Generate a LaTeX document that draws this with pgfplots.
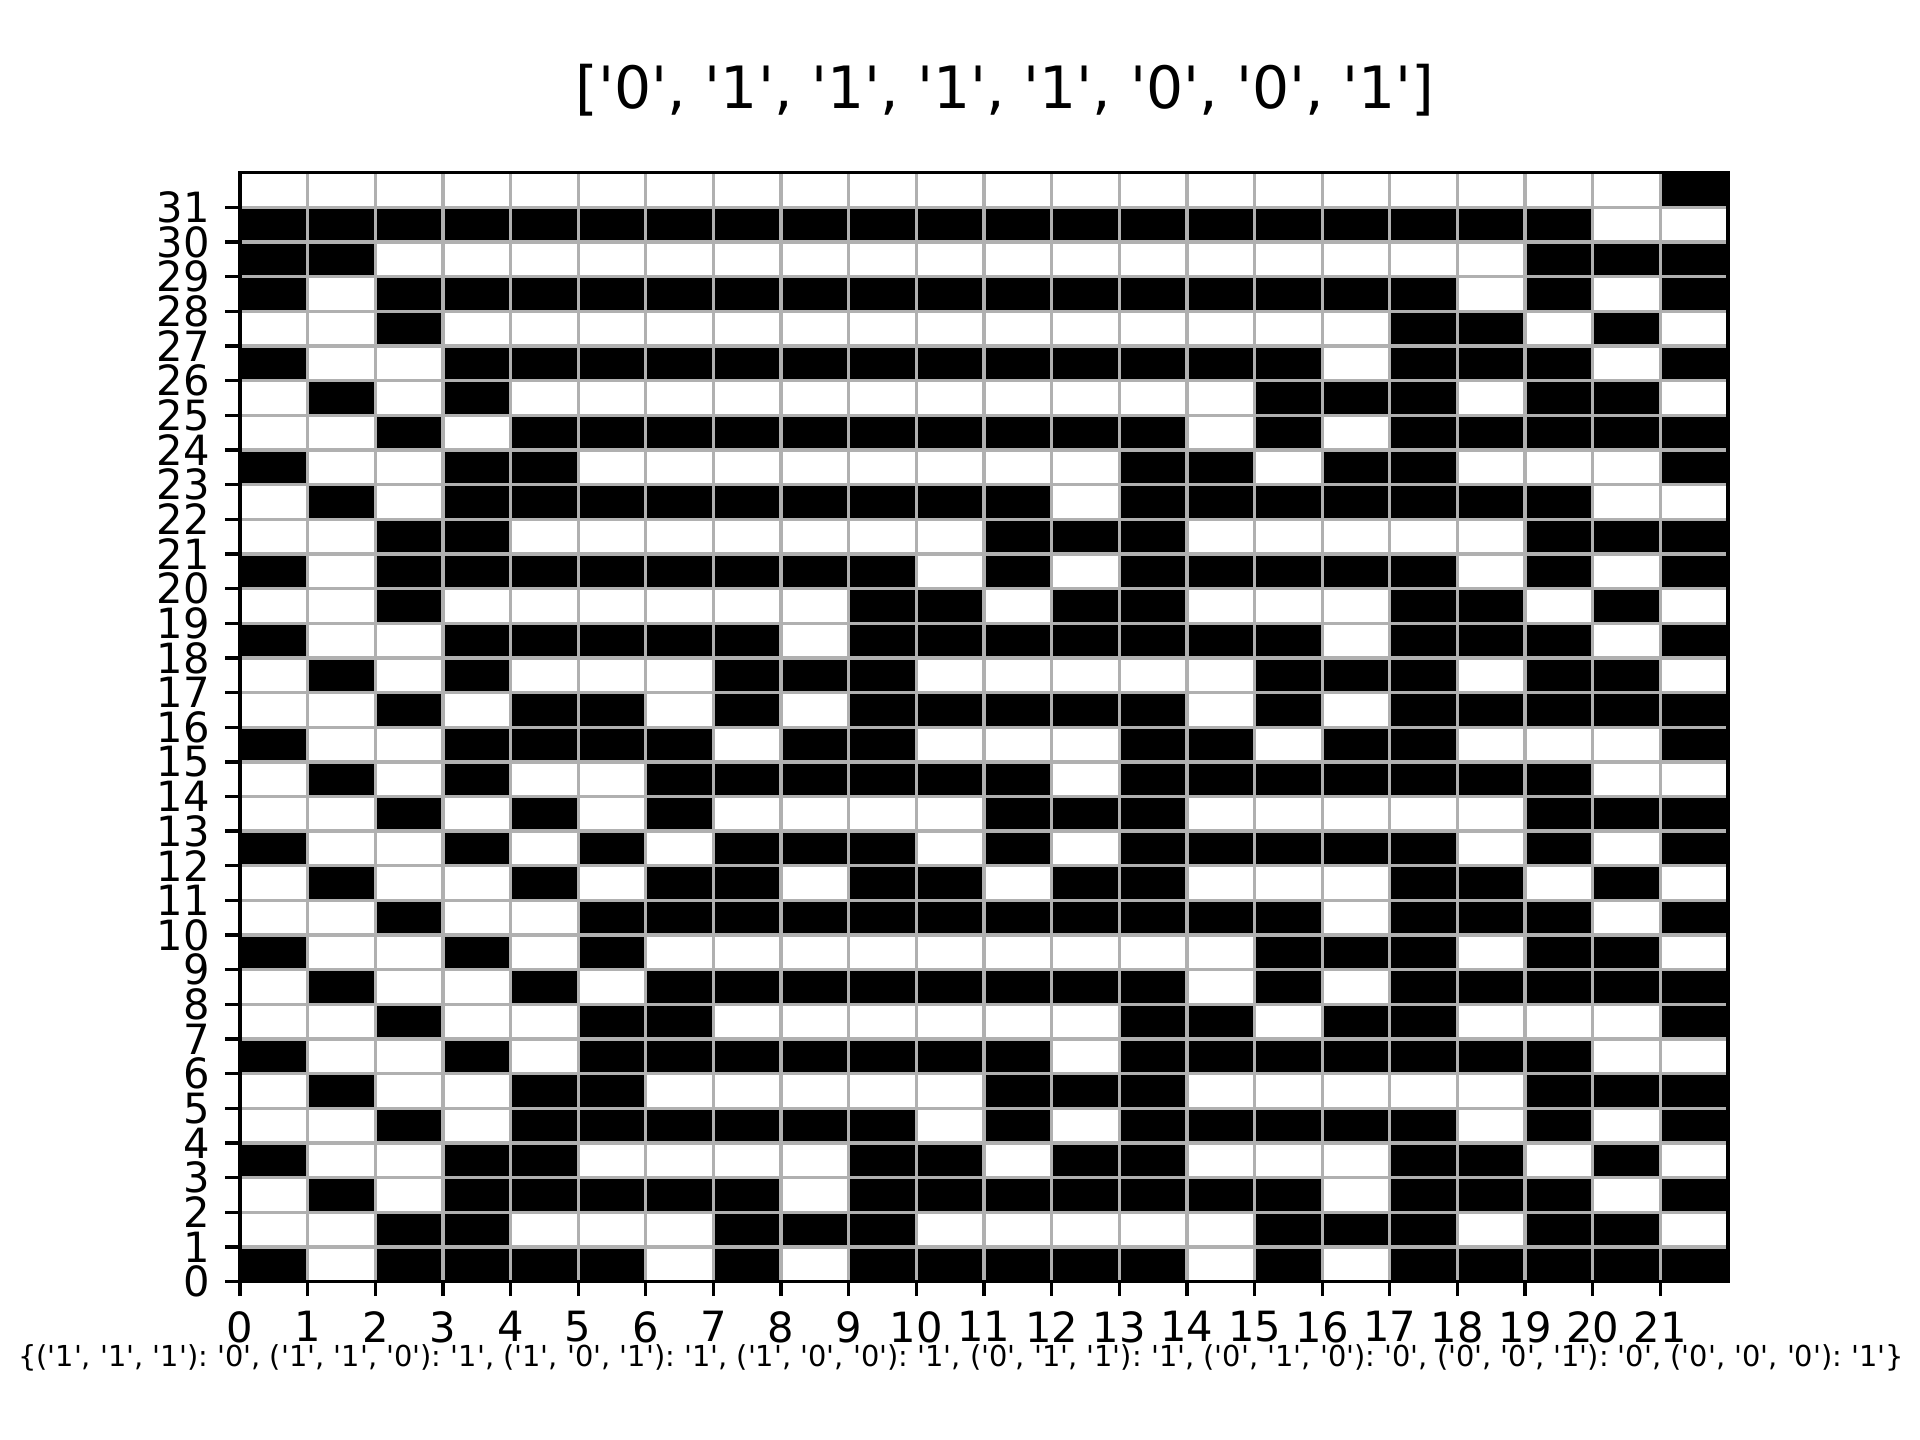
\documentclass[border=0pt]{standalone}
\usepackage{fontspec}
\setmainfont{DejaVu Sans}[Ligatures=TeXOff]
\usepackage{graphicx}
\usepackage{pgfplots}
\usepackage{pgfplotstable}
\pgfplotsset{compat=1.18}
\definecolor{gridgray}{HTML}{B0B0B0}
\pgfplotstableread[row sep=\\]{
x y c\\
0.5 0.5 1\\1.5 0.5 0\\2.5 0.5 1\\3.5 0.5 1\\4.5 0.5 1\\5.5 0.5 1\\6.5 0.5 0\\7.5 0.5 1\\8.5 0.5 0\\9.5 0.5 1\\10.5 0.5 1\\11.5 0.5 1\\12.5 0.5 1\\13.5 0.5 1\\14.5 0.5 0\\15.5 0.5 1\\16.5 0.5 0\\17.5 0.5 1\\18.5 0.5 1\\19.5 0.5 1\\20.5 0.5 1\\21.5 0.5 1\\
0.5 1.5 0\\1.5 1.5 0\\2.5 1.5 1\\3.5 1.5 1\\4.5 1.5 0\\5.5 1.5 0\\6.5 1.5 0\\7.5 1.5 1\\8.5 1.5 1\\9.5 1.5 1\\10.5 1.5 0\\11.5 1.5 0\\12.5 1.5 0\\13.5 1.5 0\\14.5 1.5 0\\15.5 1.5 1\\16.5 1.5 1\\17.5 1.5 1\\18.5 1.5 0\\19.5 1.5 1\\20.5 1.5 1\\21.5 1.5 0\\
0.5 2.5 0\\1.5 2.5 1\\2.5 2.5 0\\3.5 2.5 1\\4.5 2.5 1\\5.5 2.5 1\\6.5 2.5 1\\7.5 2.5 1\\8.5 2.5 0\\9.5 2.5 1\\10.5 2.5 1\\11.5 2.5 1\\12.5 2.5 1\\13.5 2.5 1\\14.5 2.5 1\\15.5 2.5 1\\16.5 2.5 0\\17.5 2.5 1\\18.5 2.5 1\\19.5 2.5 1\\20.5 2.5 0\\21.5 2.5 1\\
0.5 3.5 1\\1.5 3.5 0\\2.5 3.5 0\\3.5 3.5 1\\4.5 3.5 1\\5.5 3.5 0\\6.5 3.5 0\\7.5 3.5 0\\8.5 3.5 0\\9.5 3.5 1\\10.5 3.5 1\\11.5 3.5 0\\12.5 3.5 1\\13.5 3.5 1\\14.5 3.5 0\\15.5 3.5 0\\16.5 3.5 0\\17.5 3.5 1\\18.5 3.5 1\\19.5 3.5 0\\20.5 3.5 1\\21.5 3.5 0\\
0.5 4.5 0\\1.5 4.5 0\\2.5 4.5 1\\3.5 4.5 0\\4.5 4.5 1\\5.5 4.5 1\\6.5 4.5 1\\7.5 4.5 1\\8.5 4.5 1\\9.5 4.5 1\\10.5 4.5 0\\11.5 4.5 1\\12.5 4.5 0\\13.5 4.5 1\\14.5 4.5 1\\15.5 4.5 1\\16.5 4.5 1\\17.5 4.5 1\\18.5 4.5 0\\19.5 4.5 1\\20.5 4.5 0\\21.5 4.5 1\\
0.5 5.5 0\\1.5 5.5 1\\2.5 5.5 0\\3.5 5.5 0\\4.5 5.5 1\\5.5 5.5 1\\6.5 5.5 0\\7.5 5.5 0\\8.5 5.5 0\\9.5 5.5 0\\10.5 5.5 0\\11.5 5.5 1\\12.5 5.5 1\\13.5 5.5 1\\14.5 5.5 0\\15.5 5.5 0\\16.5 5.5 0\\17.5 5.5 0\\18.5 5.5 0\\19.5 5.5 1\\20.5 5.5 1\\21.5 5.5 1\\
0.5 6.5 1\\1.5 6.5 0\\2.5 6.5 0\\3.5 6.5 1\\4.5 6.5 0\\5.5 6.5 1\\6.5 6.5 1\\7.5 6.5 1\\8.5 6.5 1\\9.5 6.5 1\\10.5 6.5 1\\11.5 6.5 1\\12.5 6.5 0\\13.5 6.5 1\\14.5 6.5 1\\15.5 6.5 1\\16.5 6.5 1\\17.5 6.5 1\\18.5 6.5 1\\19.5 6.5 1\\20.5 6.5 0\\21.5 6.5 0\\
0.5 7.5 0\\1.5 7.5 0\\2.5 7.5 1\\3.5 7.5 0\\4.5 7.5 0\\5.5 7.5 1\\6.5 7.5 1\\7.5 7.5 0\\8.5 7.5 0\\9.5 7.5 0\\10.5 7.5 0\\11.5 7.5 0\\12.5 7.5 0\\13.5 7.5 1\\14.5 7.5 1\\15.5 7.5 0\\16.5 7.5 1\\17.5 7.5 1\\18.5 7.5 0\\19.5 7.5 0\\20.5 7.5 0\\21.5 7.5 1\\
0.5 8.5 0\\1.5 8.5 1\\2.5 8.5 0\\3.5 8.5 0\\4.5 8.5 1\\5.5 8.5 0\\6.5 8.5 1\\7.5 8.5 1\\8.5 8.5 1\\9.5 8.5 1\\10.5 8.5 1\\11.5 8.5 1\\12.5 8.5 1\\13.5 8.5 1\\14.5 8.5 0\\15.5 8.5 1\\16.5 8.5 0\\17.5 8.5 1\\18.5 8.5 1\\19.5 8.5 1\\20.5 8.5 1\\21.5 8.5 1\\
0.5 9.5 1\\1.5 9.5 0\\2.5 9.5 0\\3.5 9.5 1\\4.5 9.5 0\\5.5 9.5 1\\6.5 9.5 0\\7.5 9.5 0\\8.5 9.5 0\\9.5 9.5 0\\10.5 9.5 0\\11.5 9.5 0\\12.5 9.5 0\\13.5 9.5 0\\14.5 9.5 0\\15.5 9.5 1\\16.5 9.5 1\\17.5 9.5 1\\18.5 9.5 0\\19.5 9.5 1\\20.5 9.5 1\\21.5 9.5 0\\
0.5 10.5 0\\1.5 10.5 0\\2.5 10.5 1\\3.5 10.5 0\\4.5 10.5 0\\5.5 10.5 1\\6.5 10.5 1\\7.5 10.5 1\\8.5 10.5 1\\9.5 10.5 1\\10.5 10.5 1\\11.5 10.5 1\\12.5 10.5 1\\13.5 10.5 1\\14.5 10.5 1\\15.5 10.5 1\\16.5 10.5 0\\17.5 10.5 1\\18.5 10.5 1\\19.5 10.5 1\\20.5 10.5 0\\21.5 10.5 1\\
0.5 11.5 0\\1.5 11.5 1\\2.5 11.5 0\\3.5 11.5 0\\4.5 11.5 1\\5.5 11.5 0\\6.5 11.5 1\\7.5 11.5 1\\8.5 11.5 0\\9.5 11.5 1\\10.5 11.5 1\\11.5 11.5 0\\12.5 11.5 1\\13.5 11.5 1\\14.5 11.5 0\\15.5 11.5 0\\16.5 11.5 0\\17.5 11.5 1\\18.5 11.5 1\\19.5 11.5 0\\20.5 11.5 1\\21.5 11.5 0\\
0.5 12.5 1\\1.5 12.5 0\\2.5 12.5 0\\3.5 12.5 1\\4.5 12.5 0\\5.5 12.5 1\\6.5 12.5 0\\7.5 12.5 1\\8.5 12.5 1\\9.5 12.5 1\\10.5 12.5 0\\11.5 12.5 1\\12.5 12.5 0\\13.5 12.5 1\\14.5 12.5 1\\15.5 12.5 1\\16.5 12.5 1\\17.5 12.5 1\\18.5 12.5 0\\19.5 12.5 1\\20.5 12.5 0\\21.5 12.5 1\\
0.5 13.5 0\\1.5 13.5 0\\2.5 13.5 1\\3.5 13.5 0\\4.5 13.5 1\\5.5 13.5 0\\6.5 13.5 1\\7.5 13.5 0\\8.5 13.5 0\\9.5 13.5 0\\10.5 13.5 0\\11.5 13.5 1\\12.5 13.5 1\\13.5 13.5 1\\14.5 13.5 0\\15.5 13.5 0\\16.5 13.5 0\\17.5 13.5 0\\18.5 13.5 0\\19.5 13.5 1\\20.5 13.5 1\\21.5 13.5 1\\
0.5 14.5 0\\1.5 14.5 1\\2.5 14.5 0\\3.5 14.5 1\\4.5 14.5 0\\5.5 14.5 0\\6.5 14.5 1\\7.5 14.5 1\\8.5 14.5 1\\9.5 14.5 1\\10.5 14.5 1\\11.5 14.5 1\\12.5 14.5 0\\13.5 14.5 1\\14.5 14.5 1\\15.5 14.5 1\\16.5 14.5 1\\17.5 14.5 1\\18.5 14.5 1\\19.5 14.5 1\\20.5 14.5 0\\21.5 14.5 0\\
0.5 15.5 1\\1.5 15.5 0\\2.5 15.5 0\\3.5 15.5 1\\4.5 15.5 1\\5.5 15.5 1\\6.5 15.5 1\\7.5 15.5 0\\8.5 15.5 1\\9.5 15.5 1\\10.5 15.5 0\\11.5 15.5 0\\12.5 15.5 0\\13.5 15.5 1\\14.5 15.5 1\\15.5 15.5 0\\16.5 15.5 1\\17.5 15.5 1\\18.5 15.5 0\\19.5 15.5 0\\20.5 15.5 0\\21.5 15.5 1\\
0.5 16.5 0\\1.5 16.5 0\\2.5 16.5 1\\3.5 16.5 0\\4.5 16.5 1\\5.5 16.5 1\\6.5 16.5 0\\7.5 16.5 1\\8.5 16.5 0\\9.5 16.5 1\\10.5 16.5 1\\11.5 16.5 1\\12.5 16.5 1\\13.5 16.5 1\\14.5 16.5 0\\15.5 16.5 1\\16.5 16.5 0\\17.5 16.5 1\\18.5 16.5 1\\19.5 16.5 1\\20.5 16.5 1\\21.5 16.5 1\\
0.5 17.5 0\\1.5 17.5 1\\2.5 17.5 0\\3.5 17.5 1\\4.5 17.5 0\\5.5 17.5 0\\6.5 17.5 0\\7.5 17.5 1\\8.5 17.5 1\\9.5 17.5 1\\10.5 17.5 0\\11.5 17.5 0\\12.5 17.5 0\\13.5 17.5 0\\14.5 17.5 0\\15.5 17.5 1\\16.5 17.5 1\\17.5 17.5 1\\18.5 17.5 0\\19.5 17.5 1\\20.5 17.5 1\\21.5 17.5 0\\
0.5 18.5 1\\1.5 18.5 0\\2.5 18.5 0\\3.5 18.5 1\\4.5 18.5 1\\5.5 18.5 1\\6.5 18.5 1\\7.5 18.5 1\\8.5 18.5 0\\9.5 18.5 1\\10.5 18.5 1\\11.5 18.5 1\\12.5 18.5 1\\13.5 18.5 1\\14.5 18.5 1\\15.5 18.5 1\\16.5 18.5 0\\17.5 18.5 1\\18.5 18.5 1\\19.5 18.5 1\\20.5 18.5 0\\21.5 18.5 1\\
0.5 19.5 0\\1.5 19.5 0\\2.5 19.5 1\\3.5 19.5 0\\4.5 19.5 0\\5.5 19.5 0\\6.5 19.5 0\\7.5 19.5 0\\8.5 19.5 0\\9.5 19.5 1\\10.5 19.5 1\\11.5 19.5 0\\12.5 19.5 1\\13.5 19.5 1\\14.5 19.5 0\\15.5 19.5 0\\16.5 19.5 0\\17.5 19.5 1\\18.5 19.5 1\\19.5 19.5 0\\20.5 19.5 1\\21.5 19.5 0\\
0.5 20.5 1\\1.5 20.5 0\\2.5 20.5 1\\3.5 20.5 1\\4.5 20.5 1\\5.5 20.5 1\\6.5 20.5 1\\7.5 20.5 1\\8.5 20.5 1\\9.5 20.5 1\\10.5 20.5 0\\11.5 20.5 1\\12.5 20.5 0\\13.5 20.5 1\\14.5 20.5 1\\15.5 20.5 1\\16.5 20.5 1\\17.5 20.5 1\\18.5 20.5 0\\19.5 20.5 1\\20.5 20.5 0\\21.5 20.5 1\\
0.5 21.5 0\\1.5 21.5 0\\2.5 21.5 1\\3.5 21.5 1\\4.5 21.5 0\\5.5 21.5 0\\6.5 21.5 0\\7.5 21.5 0\\8.5 21.5 0\\9.5 21.5 0\\10.5 21.5 0\\11.5 21.5 1\\12.5 21.5 1\\13.5 21.5 1\\14.5 21.5 0\\15.5 21.5 0\\16.5 21.5 0\\17.5 21.5 0\\18.5 21.5 0\\19.5 21.5 1\\20.5 21.5 1\\21.5 21.5 1\\
0.5 22.5 0\\1.5 22.5 1\\2.5 22.5 0\\3.5 22.5 1\\4.5 22.5 1\\5.5 22.5 1\\6.5 22.5 1\\7.5 22.5 1\\8.5 22.5 1\\9.5 22.5 1\\10.5 22.5 1\\11.5 22.5 1\\12.5 22.5 0\\13.5 22.5 1\\14.5 22.5 1\\15.5 22.5 1\\16.5 22.5 1\\17.5 22.5 1\\18.5 22.5 1\\19.5 22.5 1\\20.5 22.5 0\\21.5 22.5 0\\
0.5 23.5 1\\1.5 23.5 0\\2.5 23.5 0\\3.5 23.5 1\\4.5 23.5 1\\5.5 23.5 0\\6.5 23.5 0\\7.5 23.5 0\\8.5 23.5 0\\9.5 23.5 0\\10.5 23.5 0\\11.5 23.5 0\\12.5 23.5 0\\13.5 23.5 1\\14.5 23.5 1\\15.5 23.5 0\\16.5 23.5 1\\17.5 23.5 1\\18.5 23.5 0\\19.5 23.5 0\\20.5 23.5 0\\21.5 23.5 1\\
0.5 24.5 0\\1.5 24.5 0\\2.5 24.5 1\\3.5 24.5 0\\4.5 24.5 1\\5.5 24.5 1\\6.5 24.5 1\\7.5 24.5 1\\8.5 24.5 1\\9.5 24.5 1\\10.5 24.5 1\\11.5 24.5 1\\12.5 24.5 1\\13.5 24.5 1\\14.5 24.5 0\\15.5 24.5 1\\16.5 24.5 0\\17.5 24.5 1\\18.5 24.5 1\\19.5 24.5 1\\20.5 24.5 1\\21.5 24.5 1\\
0.5 25.5 0\\1.5 25.5 1\\2.5 25.5 0\\3.5 25.5 1\\4.5 25.5 0\\5.5 25.5 0\\6.5 25.5 0\\7.5 25.5 0\\8.5 25.5 0\\9.5 25.5 0\\10.5 25.5 0\\11.5 25.5 0\\12.5 25.5 0\\13.5 25.5 0\\14.5 25.5 0\\15.5 25.5 1\\16.5 25.5 1\\17.5 25.5 1\\18.5 25.5 0\\19.5 25.5 1\\20.5 25.5 1\\21.5 25.5 0\\
0.5 26.5 1\\1.5 26.5 0\\2.5 26.5 0\\3.5 26.5 1\\4.5 26.5 1\\5.5 26.5 1\\6.5 26.5 1\\7.5 26.5 1\\8.5 26.5 1\\9.5 26.5 1\\10.5 26.5 1\\11.5 26.5 1\\12.5 26.5 1\\13.5 26.5 1\\14.5 26.5 1\\15.5 26.5 1\\16.5 26.5 0\\17.5 26.5 1\\18.5 26.5 1\\19.5 26.5 1\\20.5 26.5 0\\21.5 26.5 1\\
0.5 27.5 0\\1.5 27.5 0\\2.5 27.5 1\\3.5 27.5 0\\4.5 27.5 0\\5.5 27.5 0\\6.5 27.5 0\\7.5 27.5 0\\8.5 27.5 0\\9.5 27.5 0\\10.5 27.5 0\\11.5 27.5 0\\12.5 27.5 0\\13.5 27.5 0\\14.5 27.5 0\\15.5 27.5 0\\16.5 27.5 0\\17.5 27.5 1\\18.5 27.5 1\\19.5 27.5 0\\20.5 27.5 1\\21.5 27.5 0\\
0.5 28.5 1\\1.5 28.5 0\\2.5 28.5 1\\3.5 28.5 1\\4.5 28.5 1\\5.5 28.5 1\\6.5 28.5 1\\7.5 28.5 1\\8.5 28.5 1\\9.5 28.5 1\\10.5 28.5 1\\11.5 28.5 1\\12.5 28.5 1\\13.5 28.5 1\\14.5 28.5 1\\15.5 28.5 1\\16.5 28.5 1\\17.5 28.5 1\\18.5 28.5 0\\19.5 28.5 1\\20.5 28.5 0\\21.5 28.5 1\\
0.5 29.5 1\\1.5 29.5 1\\2.5 29.5 0\\3.5 29.5 0\\4.5 29.5 0\\5.5 29.5 0\\6.5 29.5 0\\7.5 29.5 0\\8.5 29.5 0\\9.5 29.5 0\\10.5 29.5 0\\11.5 29.5 0\\12.5 29.5 0\\13.5 29.5 0\\14.5 29.5 0\\15.5 29.5 0\\16.5 29.5 0\\17.5 29.5 0\\18.5 29.5 0\\19.5 29.5 1\\20.5 29.5 1\\21.5 29.5 1\\
0.5 30.5 1\\1.5 30.5 1\\2.5 30.5 1\\3.5 30.5 1\\4.5 30.5 1\\5.5 30.5 1\\6.5 30.5 1\\7.5 30.5 1\\8.5 30.5 1\\9.5 30.5 1\\10.5 30.5 1\\11.5 30.5 1\\12.5 30.5 1\\13.5 30.5 1\\14.5 30.5 1\\15.5 30.5 1\\16.5 30.5 1\\17.5 30.5 1\\18.5 30.5 1\\19.5 30.5 1\\20.5 30.5 0\\21.5 30.5 0\\
0.5 31.5 0\\1.5 31.5 0\\2.5 31.5 0\\3.5 31.5 0\\4.5 31.5 0\\5.5 31.5 0\\6.5 31.5 0\\7.5 31.5 0\\8.5 31.5 0\\9.5 31.5 0\\10.5 31.5 0\\11.5 31.5 0\\12.5 31.5 0\\13.5 31.5 0\\14.5 31.5 0\\15.5 31.5 0\\16.5 31.5 0\\17.5 31.5 0\\18.5 31.5 0\\19.5 31.5 0\\20.5 31.5 0\\21.5 31.5 1\\
}\cells
\begin{document}
\begin{tikzpicture}
\begin{axis}[
  at={(0,0)}, anchor=south west,
  scale only axis, width=357.12pt, height=266.11pt,
  xmin=0, xmax=22, ymin=0, ymax=32,
  xtick={0,...,21}, ytick={0,...,31},
  tick pos=left, tick align=outside,
  major tick length=3.5pt,
  every tick/.style={black, line width=0.8pt},
  axis line style={line width=0.8pt},
  grid=major,
  major grid style={gridgray, line width=0.8pt},
  axis on top,
  colormap={bw}{color=(white) color=(black)},
  point meta min=0, point meta max=1,
  /pgf/number format/assume math mode=true,
  tick label style={font=\fontsize{10}{12}\selectfont},
  xticklabel style={inner sep=0pt, yshift=-3.5pt},
  yticklabel style={inner sep=0pt, xshift=-3.5pt},
  title={['0', '1', '1', '1', '1', '0', '0', '1']},
  title style={at={(0.5,1)}, anchor=base, yshift=9.5pt, xshift=5.1pt, font=\fontsize{14}{16}\selectfont, inner sep=0pt},
  xlabel={\resizebox{452.6pt}{!}{\frenchspacing\{('1', '1', '1'): '0', ('1', '1', '0'): '1', ('1', '0', '1'): '1', ('1', '0', '0'): '1', ('0', '1', '1'): '1', ('0', '1', '0'): '0', ('0', '0', '1'): '0', ('0', '0', '0'): '1'\}}},
  xlabel style={at={(0.5,0)}, anchor=center, yshift=-18.3pt, xshift=-5.5pt, font=\fontsize{7}{8}\selectfont, inner sep=0pt},
]
\addplot[matrix plot*, mesh/cols=22, mesh/rows=32, point meta=explicit] table[x=x, y=y, meta=c] {\cells};
\end{axis}
\pgfresetboundingbox
\path[use as bounding box] (-57.6pt,-38.016pt) rectangle ++(460.8pt,345.6pt);
\end{tikzpicture}
\end{document}
